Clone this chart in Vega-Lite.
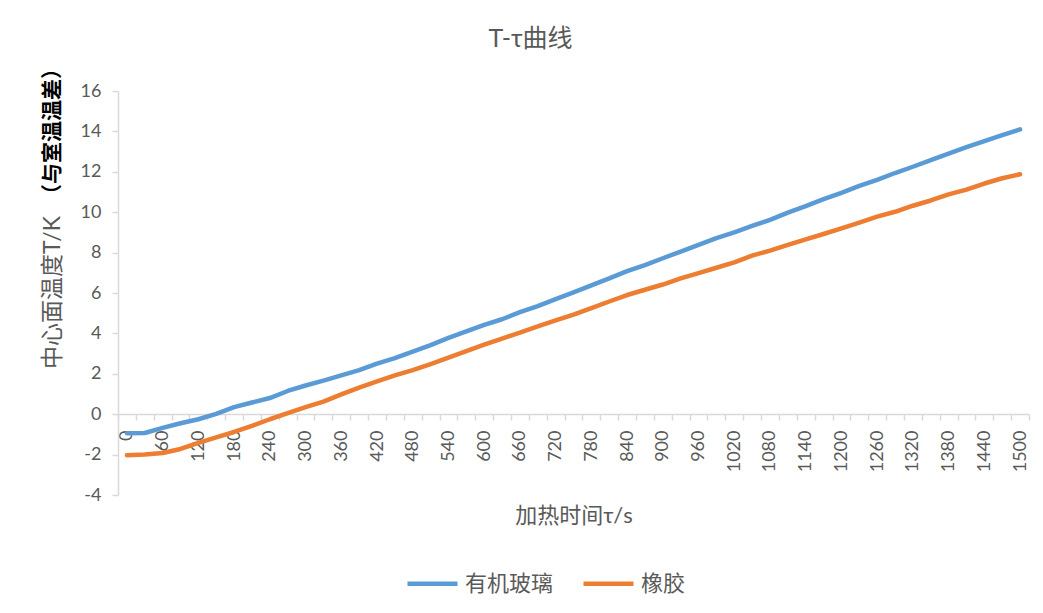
{
  "$schema": "https://vega.github.io/schema/vega-lite/v6.json",
  "width": 911,
  "height": 404,
  "autosize": {"type": "none"},
  "padding": {"left": 118, "top": 91, "right": 14, "bottom": 118},
  "background": "white",
  "title": {
    "text": "T-τ曲线",
    "frame": "group",
    "fontSize": 25,
    "fontWeight": "normal",
    "color": "#595959",
    "font": "Lato, 'Noto Sans CJK SC', sans-serif",
    "anchor": "middle",
    "dx": -43,
    "dy": 52,
    "offset": 38,
    "baseline": "alphabetic"
  },
  "data": {
    "values": [
      {"t": 0, "有机玻璃": -0.94, "橡胶": -2.03},
      {"t": 30, "有机玻璃": -0.93, "橡胶": -2.0},
      {"t": 60, "有机玻璃": -0.68, "橡胶": -1.92},
      {"t": 90, "有机玻璃": -0.45, "橡胶": -1.72},
      {"t": 120, "有机玻璃": -0.25, "橡胶": -1.42},
      {"t": 150, "有机玻璃": 0.02, "橡胶": -1.15},
      {"t": 180, "有机玻璃": 0.35, "橡胶": -0.88},
      {"t": 210, "有机玻璃": 0.58, "橡胶": -0.58},
      {"t": 240, "有机玻璃": 0.8, "橡胶": -0.25},
      {"t": 270, "有机玻璃": 1.15, "橡胶": 0.05},
      {"t": 300, "有机玻璃": 1.42, "橡胶": 0.35},
      {"t": 330, "有机玻璃": 1.66, "橡胶": 0.62},
      {"t": 360, "有机玻璃": 1.92, "橡胶": 0.98},
      {"t": 390, "有机玻璃": 2.18, "橡胶": 1.32},
      {"t": 420, "有机玻璃": 2.5, "橡胶": 1.62},
      {"t": 450, "有机玻璃": 2.78, "橡胶": 1.92},
      {"t": 480, "有机玻璃": 3.1, "橡胶": 2.18},
      {"t": 510, "有机玻璃": 3.42, "橡胶": 2.48},
      {"t": 540, "有机玻璃": 3.78, "橡胶": 2.8},
      {"t": 570, "有机玻璃": 4.1, "橡胶": 3.12},
      {"t": 600, "有机玻璃": 4.42, "橡胶": 3.44},
      {"t": 630, "有机玻璃": 4.7, "橡胶": 3.74},
      {"t": 660, "有机玻璃": 5.05, "橡胶": 4.04},
      {"t": 690, "有机玻璃": 5.35, "橡胶": 4.35},
      {"t": 720, "有机玻璃": 5.7, "橡胶": 4.64},
      {"t": 750, "有机玻璃": 6.03, "橡胶": 4.93},
      {"t": 780, "有机玻璃": 6.38, "橡胶": 5.25},
      {"t": 810, "有机玻璃": 6.72, "橡胶": 5.58},
      {"t": 840, "有机玻璃": 7.08, "橡胶": 5.9},
      {"t": 870, "有机玻璃": 7.38, "橡胶": 6.16},
      {"t": 900, "有机玻璃": 7.72, "橡胶": 6.42},
      {"t": 930, "有机玻璃": 8.05, "橡胶": 6.72},
      {"t": 960, "有机玻璃": 8.38, "橡胶": 6.98},
      {"t": 990, "有机玻璃": 8.72, "橡胶": 7.25},
      {"t": 1020, "有机玻璃": 9.0, "橡胶": 7.52},
      {"t": 1050, "有机玻璃": 9.32, "橡胶": 7.85},
      {"t": 1080, "有机玻璃": 9.62, "橡胶": 8.1},
      {"t": 1110, "有机玻璃": 9.98, "橡胶": 8.38},
      {"t": 1140, "有机玻璃": 10.3, "橡胶": 8.65},
      {"t": 1170, "有机玻璃": 10.65, "橡胶": 8.92},
      {"t": 1200, "有机玻璃": 10.96, "橡胶": 9.2},
      {"t": 1230, "有机玻璃": 11.3, "橡胶": 9.48},
      {"t": 1260, "有机玻璃": 11.6, "橡胶": 9.78},
      {"t": 1290, "有机玻璃": 11.94, "橡胶": 10.02},
      {"t": 1320, "有机玻璃": 12.25, "橡胶": 10.32},
      {"t": 1350, "有机玻璃": 12.58, "橡胶": 10.58},
      {"t": 1380, "有机玻璃": 12.9, "橡胶": 10.88},
      {"t": 1410, "有机玻璃": 13.22, "橡胶": 11.12},
      {"t": 1440, "有机玻璃": 13.52, "橡胶": 11.42},
      {"t": 1470, "有机玻璃": 13.82, "橡胶": 11.68},
      {"t": 1500, "有机玻璃": 14.1, "橡胶": 11.88}
    ]
  },
  "transform": [{"fold": ["有机玻璃", "橡胶"], "as": ["材料", "T"]}],
  "config": {"view": {"stroke": null}, "axis": {"grid": false}},
  "encoding": {
    "x": {
      "field": "t",
      "type": "quantitative",
      "scale": {"domain": [-15, 1515], "nice": false, "zero": false},
      "axis": {
        "values": [-15, 15, 45, 75, 105, 135, 165, 195, 225, 255, 285, 315, 345, 375, 405, 435, 465, 495, 525, 555, 585, 615, 645, 675, 705, 735, 765, 795, 825, 855, 885, 915, 945, 975, 1005, 1035, 1065, 1095, 1125, 1155, 1185, 1215, 1245, 1275, 1305, 1335, 1365, 1395, 1425, 1455, 1485, 1515],
        "labelExpr": "(datum.value + 15) % 60 === 0 && datum.value + 15 <= 1500 ? '' + (datum.value + 15) : ''",
        "labelOffset": 8.93,
        "labelAngle": -90,
        "labelAlign": "right",
        "labelBaseline": "middle",
        "labelFontSize": 18,
        "labelColor": "#595959",
        "labelFont": "Lato, sans-serif",
        "labelPadding": 10,
        "labelOverlap": false,
        "labelFlush": false,
        "labelBound": false,
        "tickSize": 6,
        "tickColor": "#D9D9D9",
        "tickWidth": 1.5,
        "domainColor": "#D9D9D9",
        "domainWidth": 1.5,
        "offset": -81,
        "title": "加热时间τ/s",
        "titleFontSize": 22,
        "titleFontWeight": "normal",
        "titleColor": "#595959",
        "titleFont": "Lato, 'Noto Sans CJK SC', sans-serif",
        "titleY": 101,
        "titleBaseline": "middle",
        "grid": false
      }
    }
  },
  "layer": [
    {
      "mark": {"type": "line", "strokeWidth": 4.5, "strokeCap": "round", "strokeJoin": "round"},
      "encoding": {
        "y": {
          "field": "T",
          "type": "quantitative",
          "scale": {"domain": [-4, 16], "nice": false},
          "axis": {
            "values": [-4, -2, 0, 2, 4, 6, 8, 10, 12, 14, 16],
            "labelExpr": "'' + datum.value",
            "title": "中心面温度T/K",
            "titleFontSize": 23,
            "titleFontWeight": "normal",
            "titleColor": "#595959",
            "titleFont": "Lato, 'Noto Sans CJK SC', sans-serif",
            "titleX": -66,
            "titleY": 201,
            "titleAngle": -90,
            "titleAlign": "center",
            "titleBaseline": "middle",
            "labelFontSize": 18,
            "labelColor": "#595959",
            "labelFont": "Lato, sans-serif",
            "labelPadding": 11,
            "tickSize": 6,
            "tickColor": "#D9D9D9",
            "tickWidth": 1.5,
            "domainColor": "#D9D9D9",
            "domainWidth": 1.5,
            "grid": false
          }
        },
        "color": {
          "field": "材料",
          "type": "nominal",
          "scale": {"domain": ["有机玻璃", "橡胶"], "range": ["#5B9BD5", "#ED7D31"]},
          "legend": {
            "orient": "none",
            "legendX": 287,
            "legendY": 465,
            "direction": "horizontal",
            "title": null,
            "symbolType": "stroke",
            "symbolSize": 2500,
            "symbolStrokeWidth": 4.5,
            "labelFontSize": 22,
            "labelColor": "#595959",
            "labelFont": "Lato, 'Noto Sans CJK SC', sans-serif",
            "labelOffset": 5,
            "columnPadding": 20,
            "labelLimit": 200
          }
        }
      }
    },
    {
      "mark": {"type": "line", "strokeOpacity": 0, "strokeWidth": 0},
      "encoding": {
        "y": {
          "field": "T",
          "type": "quantitative",
          "axis": {
            "orient": "left",
            "title": "（与室温温差）",
            "titleFontSize": 21,
            "titleFontWeight": "bold",
            "titleColor": "#000000",
            "titleFont": "'Noto Sans CJK SC', sans-serif",
            "titleX": -66,
            "titleY": 40,
            "titleAngle": -90,
            "titleAlign": "center",
            "titleBaseline": "middle",
            "labels": false,
            "ticks": false,
            "domain": false,
            "grid": false
          }
        },
        "detail": {"field": "材料"}
      }
    }
  ],
  "resolve": {"axis": {"y": "independent"}}
}
